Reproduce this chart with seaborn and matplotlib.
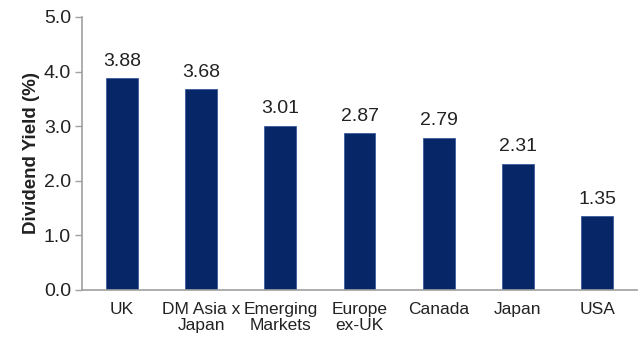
import matplotlib
matplotlib.use("Agg")
import matplotlib.pyplot as plt
import seaborn as sns
import pandas as pd

categories = ["UK", "DM Asia x\nJapan", "Emerging\nMarkets", "Europe\nex-UK", "Canada", "Japan", "USA"]
values = [3.88, 3.68, 3.01, 2.87, 2.79, 2.31, 1.35]
value_labels = ["3.88", "3.68", "3.01", "2.87", "2.79", "2.31", "1.35"]
y_ticks = [0.0, 1.0, 2.0, 3.0, 4.0, 5.0]

sns.set_theme(style="white")
plt.rcParams['font.family'] = ['Liberation Sans', 'DejaVu Sans']

df = pd.DataFrame({"cat": categories, "val": values})

fig = plt.figure(figsize=(6.42, 3.39), dpi=100)
ax = fig.add_axes([0.128, 0.145, 0.864, 0.805])
sns.barplot(data=df, x="cat", y="val", color="#062668", width=0.4,
            edgecolor="#3A5A9A", linewidth=0.6, saturation=1, ax=ax)

for i, (v, lab) in enumerate(zip(values, value_labels)):
    ax.annotate(lab, (i, v), xytext=(0, 6), textcoords="offset points",
                ha="center", va="bottom", fontsize=14, color="#222222")

ax.set_ylim(0, 5)
ax.set_xlim(-0.5, len(categories) - 0.5)
ax.set_yticks(y_ticks)
ax.set_yticklabels([f"{t:.1f}" for t in y_ticks], fontsize=14, color="#222222")
ax.set_xticks(range(len(categories)))
ax.set_xticklabels(categories, fontsize=12.5, color="#222222", linespacing=1.05)
ax.set_xticks([i - 0.5 for i in range(len(categories) + 1)], minor=True)
ax.tick_params(axis="x", which="major", length=0, pad=9)
ax.tick_params(axis="x", which="minor", length=5, width=1, color="#A0A0A0", direction="out")
ax.tick_params(axis="y", which="major", length=5, width=1, color="#A0A0A0", direction="out", left=True, pad=3)
ax.set_xlabel("")
ax.set_ylabel("Dividend Yield (%)", fontsize=13.5, fontweight="bold", color="#222222", labelpad=3)

for s in ["top", "right"]:
    ax.spines[s].set_visible(False)
for s in ["left", "bottom"]:
    ax.spines[s].set_color("#A0A0A0")
    ax.spines[s].set_linewidth(1.2)
ax.grid(False)

fig.savefig("out.png", dpi=100)
